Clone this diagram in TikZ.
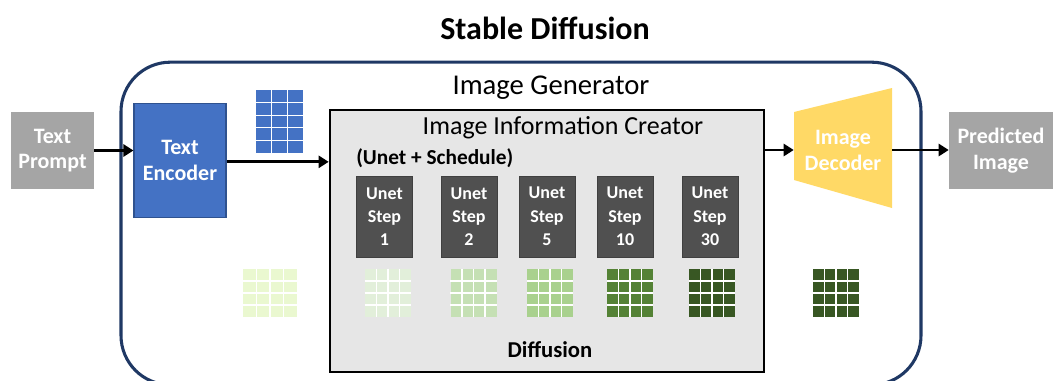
\documentclass[tikz,border=0pt]{standalone}
\usepackage{fontspec}
\setmainfont{Carlito}
\usetikzlibrary{arrows.meta, positioning}

\definecolor{iogray}{HTML}{A5A5A5}
\definecolor{encblue}{HTML}{4472C4}
\definecolor{encedge}{HTML}{2F528F}
\definecolor{decyellow}{HTML}{FFD966}
\definecolor{creatorgray}{HTML}{E6E6E6}
\definecolor{unetgray}{HTML}{505050}
\definecolor{framenavy}{HTML}{1F3864}
\definecolor{latent0}{HTML}{EAF8D0}
\definecolor{latent1}{HTML}{E2EFDA}
\definecolor{latent2}{HTML}{C5E0B4}
\definecolor{latent3}{HTML}{A9D18E}
\definecolor{latent4}{HTML}{548235}
\definecolor{latent5}{HTML}{385723}

\begin{document}
\begin{tikzpicture}[
 x=0.75pt, y=-0.75pt,
 io/.style={fill=iogray, text=white, align=center, inner sep=0pt,
  minimum width=62pt, minimum height=58pt,
  font=\fontsize{16.5}{19}\selectfont\bfseries},
 encoder/.style={fill=encblue, draw=encedge, line width=0.8pt, text=white, align=center,
  inner sep=0pt, minimum width=69pt, minimum height=85pt,
  font=\fontsize{16.5}{19.5}\selectfont\bfseries},
 creator/.style={fill=creatorgray, draw=black, line width=2pt, inner sep=0pt,
  minimum width=325.5pt, minimum height=196.5pt},
 unet/.style={fill=unetgray, draw=unetgray!80!black, text=white, align=center, inner sep=0pt,
  minimum width=42pt, minimum height=61pt,
  font=\fontsize{13.5}{17.5}\selectfont\bfseries},
 latent/.style={inner sep=0pt, minimum height=36pt},
 cellline/.style={white, line width=1pt},
 arr/.style={-{Triangle[length=7.5pt,width=9pt]}, line width=2.2pt}
]
\useasboundingbox (0,0) rectangle (1054,380);
\clip (0,0) rectangle (1054,380);

\node[font=\fontsize{24}{28}\selectfont\bfseries] (title) at (545,28) {Stable Diffusion};

\node[draw=framenavy, line width=2.3pt, rounded corners=37pt, inner sep=0pt,
 minimum width=600pt, minimum height=242pt] (frame) at (521,223.5) {};
\node[font=\fontsize{21.5}{25}\selectfont] (gen) at (551,88) {Image Generator};

\node[io] (prompt) at (52.5,150.5) {Text\\Prompt};
\node[encoder] (enc) at (180,160.5) {Text\\Encoder};

\node[fill=encblue, inner sep=0pt, minimum width=35.25pt, minimum height=47.25pt] (emb) at (279.5,121.5) {};
\foreach \k in {-0.5,0.5}
 \draw[cellline] ([xshift=\k*11.75pt]emb.north) -- ([xshift=\k*11.75pt]emb.south);
\foreach \k in {-1.5,-0.5,0.5,1.5}
 \draw[cellline] ([yshift=\k*9.45pt]emb.west) -- ([yshift=\k*9.45pt]emb.east);

\node[creator] (creator) at (547,241) {};
\node[font=\fontsize{19.5}{23}\selectfont] (creatortitle) at (563,128) {Image Information Creator};
\node[font=\fontsize{16}{19}\selectfont\bfseries, anchor=west, inner sep=0pt] (schedule) at (356,158) {(Unet + Schedule)};
\node[font=\fontsize{17}{20}\selectfont\bfseries] (diffusion) at (550,350) {Diffusion};

\foreach \s/\cx in {1/384.5, 2/469, 5/547, 10/625, 30/710}
 \node[unet] (step\s) at (\cx,216.5) {Unet\\Step\\\s};

\foreach \n/\cx/\w/\col in {0/270/40.5/latent0, 1/388/34.5/latent1, 2/473.5/34.5/latent2,
 3/550/34.5/latent3, 4/630/34.5/latent4, 5/712/34.5/latent5, 6/836/34.5/latent5} {
 \node[latent, minimum width=\w pt, fill=\col] (lat\n) at (\cx,293) {};
 \foreach \k in {-1,0,1} {
  \draw[cellline] ([xshift=\k*\w pt/4]lat\n.north) -- ([xshift=\k*\w pt/4]lat\n.south);
  \draw[cellline] ([yshift=\k*9pt]lat\n.west) -- ([yshift=\k*9pt]lat\n.east);
 }
}

\fill[decyellow] (794,112) -- (892,88) -- (892,208) -- (794,180) -- cycle;
\node[text=white, align=center, inner sep=0pt, minimum width=73.5pt, minimum height=51pt,
 font=\fontsize{16.5}{19.5}\selectfont\bfseries] (dec) at (843,150) {Image\\Decoder};

\node[io, minimum width=78pt] (pred) at (1001,150.5) {Predicted\\Image};

\draw[arr] (prompt.east) -- (prompt.east -| enc.west);
\draw[arr] ([yshift=-1pt]enc.east) -- ([yshift=-1pt]enc.east -| creator.west);
\draw[arr] (dec.west -| creator.east) -- (dec.west);
\draw[arr] (dec.east) -- (dec.east -| pred.west);
\end{tikzpicture}
\end{document}
